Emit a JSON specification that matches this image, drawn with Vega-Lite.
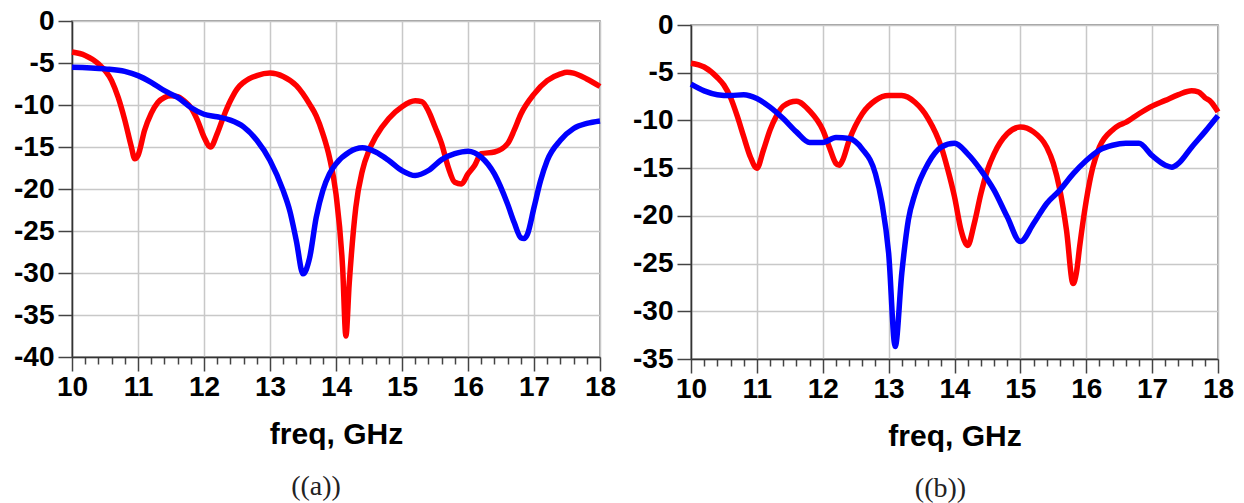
{
  "$schema": "https://vega.github.io/schema/vega-lite/v6.json",
  "padding": {"left": 12, "top": 6, "right": 0, "bottom": 0},
  "background": "white",
  "config": {
    "font": "Liberation Sans",
    "view": {"stroke": "#808080", "strokeWidth": 1.5},
    "axis": {
      "labelFont": "Liberation Sans",
      "labelFontSize": 28,
      "labelFontWeight": "bold",
      "labelColor": "#000000",
      "titleFont": "Liberation Sans",
      "titleFontSize": 30,
      "titleFontWeight": "bold",
      "titleColor": "#000000",
      "domainColor": "#333333",
      "domainWidth": 1.5,
      "tickColor": "#444444",
      "tickWidth": 1.5,
      "gridColor": "#c8c8c8",
      "gridWidth": 1.5
    },
    "title": {"font": "Liberation Serif", "fontSize": 28, "fontWeight": "normal", "color": "#222222"}
  },
  "datasets": {
    "a": [
      {"s":"red","f":10.0,"v":-3.7},{"s":"red","f":10.2,"v":-4.1},{"s":"red","f":10.4,"v":-5.1},{"s":"red","f":10.6,"v":-7.1},{"s":"red","f":10.7,"v":-9.1},{"s":"red","f":10.8,"v":-11.8},{"s":"red","f":10.9,"v":-15.0},{"s":"red","f":10.95,"v":-16.4},{"s":"red","f":11.0,"v":-16.0},{"s":"red","f":11.1,"v":-13.0},{"s":"red","f":11.2,"v":-11.0},{"s":"red","f":11.3,"v":-9.7},{"s":"red","f":11.4,"v":-9.1},{"s":"red","f":11.5,"v":-8.9},{"s":"red","f":11.6,"v":-9.0},{"s":"red","f":11.7,"v":-9.5},{"s":"red","f":11.8,"v":-10.3},{"s":"red","f":11.9,"v":-11.8},{"s":"red","f":12.0,"v":-13.8},{"s":"red","f":12.1,"v":-15.0},{"s":"red","f":12.2,"v":-13.4},{"s":"red","f":12.3,"v":-11.3},{"s":"red","f":12.4,"v":-9.5},{"s":"red","f":12.5,"v":-8.1},{"s":"red","f":12.6,"v":-7.3},{"s":"red","f":12.8,"v":-6.5},{"s":"red","f":13.0,"v":-6.2},{"s":"red","f":13.2,"v":-6.6},{"s":"red","f":13.4,"v":-7.7},{"s":"red","f":13.6,"v":-9.9},{"s":"red","f":13.7,"v":-11.3},{"s":"red","f":13.8,"v":-13.4},{"s":"red","f":13.9,"v":-16.2},{"s":"red","f":14.0,"v":-20.6},{"s":"red","f":14.1,"v":-29.3},{"s":"red","f":14.15,"v":-37.5},{"s":"red","f":14.2,"v":-31.3},{"s":"red","f":14.3,"v":-22.2},{"s":"red","f":14.4,"v":-17.8},{"s":"red","f":14.5,"v":-15.4},{"s":"red","f":14.6,"v":-13.8},{"s":"red","f":14.8,"v":-11.6},{"s":"red","f":15.0,"v":-10.2},{"s":"red","f":15.2,"v":-9.5},{"s":"red","f":15.3,"v":-9.6},{"s":"red","f":15.4,"v":-10.7},{"s":"red","f":15.5,"v":-12.6},{"s":"red","f":15.6,"v":-14.6},{"s":"red","f":15.7,"v":-17.4},{"s":"red","f":15.8,"v":-19.2},{"s":"red","f":15.9,"v":-19.4},{"s":"red","f":16.0,"v":-18.2},{"s":"red","f":16.1,"v":-17.2},{"s":"red","f":16.2,"v":-15.8},{"s":"red","f":16.4,"v":-15.6},{"s":"red","f":16.6,"v":-14.6},{"s":"red","f":16.7,"v":-13.0},{"s":"red","f":16.8,"v":-11.1},{"s":"red","f":17.0,"v":-8.7},{"s":"red","f":17.2,"v":-7.1},{"s":"red","f":17.4,"v":-6.3},{"s":"red","f":17.5,"v":-6.1},{"s":"red","f":17.6,"v":-6.2},{"s":"red","f":17.8,"v":-6.9},{"s":"red","f":18.0,"v":-7.8},
      {"s":"blue","f":10.0,"v":-5.5},{"s":"blue","f":10.5,"v":-5.7},{"s":"blue","f":10.8,"v":-6.0},{"s":"blue","f":11.0,"v":-6.5},{"s":"blue","f":11.2,"v":-7.3},{"s":"blue","f":11.4,"v":-8.3},{"s":"blue","f":11.6,"v":-9.1},{"s":"blue","f":11.8,"v":-10.3},{"s":"blue","f":12.0,"v":-11.1},{"s":"blue","f":12.2,"v":-11.4},{"s":"blue","f":12.4,"v":-11.8},{"s":"blue","f":12.6,"v":-12.6},{"s":"blue","f":12.8,"v":-14.2},{"s":"blue","f":13.0,"v":-16.6},{"s":"blue","f":13.2,"v":-20.2},{"s":"blue","f":13.3,"v":-22.6},{"s":"blue","f":13.4,"v":-26.2},{"s":"blue","f":13.5,"v":-30.1},{"s":"blue","f":13.6,"v":-28.2},{"s":"blue","f":13.7,"v":-23.4},{"s":"blue","f":13.8,"v":-20.2},{"s":"blue","f":13.9,"v":-18.2},{"s":"blue","f":14.0,"v":-17.0},{"s":"blue","f":14.2,"v":-15.6},{"s":"blue","f":14.4,"v":-15.1},{"s":"blue","f":14.6,"v":-15.6},{"s":"blue","f":14.8,"v":-16.6},{"s":"blue","f":15.0,"v":-17.8},{"s":"blue","f":15.2,"v":-18.4},{"s":"blue","f":15.4,"v":-17.8},{"s":"blue","f":15.6,"v":-16.5},{"s":"blue","f":15.8,"v":-15.8},{"s":"blue","f":16.0,"v":-15.5},{"s":"blue","f":16.2,"v":-16.2},{"s":"blue","f":16.4,"v":-18.2},{"s":"blue","f":16.6,"v":-21.8},{"s":"blue","f":16.7,"v":-24.0},{"s":"blue","f":16.8,"v":-25.8},{"s":"blue","f":16.85,"v":-25.9},{"s":"blue","f":16.9,"v":-25.4},{"s":"blue","f":17.0,"v":-22.2},{"s":"blue","f":17.1,"v":-19.0},{"s":"blue","f":17.2,"v":-16.6},{"s":"blue","f":17.4,"v":-14.2},{"s":"blue","f":17.6,"v":-12.8},{"s":"blue","f":17.8,"v":-12.2},{"s":"blue","f":18.0,"v":-11.9}
    ],
    "b": [
      {"s":"red","f":10.0,"v":-4.0},{"s":"red","f":10.2,"v":-4.4},{"s":"red","f":10.4,"v":-5.5},{"s":"red","f":10.5,"v":-6.3},{"s":"red","f":10.6,"v":-7.6},{"s":"red","f":10.7,"v":-9.5},{"s":"red","f":10.8,"v":-11.7},{"s":"red","f":10.9,"v":-13.8},{"s":"red","f":11.0,"v":-15.0},{"s":"red","f":11.1,"v":-13.1},{"s":"red","f":11.2,"v":-11.0},{"s":"red","f":11.3,"v":-9.5},{"s":"red","f":11.4,"v":-8.5},{"s":"red","f":11.6,"v":-8.0},{"s":"red","f":11.8,"v":-9.0},{"s":"red","f":12.0,"v":-11.0},{"s":"red","f":12.1,"v":-12.8},{"s":"red","f":12.2,"v":-14.5},{"s":"red","f":12.25,"v":-14.7},{"s":"red","f":12.3,"v":-14.2},{"s":"red","f":12.4,"v":-12.1},{"s":"red","f":12.6,"v":-9.3},{"s":"red","f":12.8,"v":-7.9},{"s":"red","f":13.0,"v":-7.4},{"s":"red","f":13.2,"v":-7.4},{"s":"red","f":13.4,"v":-8.1},{"s":"red","f":13.6,"v":-9.8},{"s":"red","f":13.8,"v":-12.8},{"s":"red","f":13.9,"v":-15.2},{"s":"red","f":14.0,"v":-18.0},{"s":"red","f":14.1,"v":-21.5},{"s":"red","f":14.2,"v":-23.1},{"s":"red","f":14.3,"v":-20.8},{"s":"red","f":14.4,"v":-17.7},{"s":"red","f":14.5,"v":-15.2},{"s":"red","f":14.6,"v":-13.5},{"s":"red","f":14.8,"v":-11.4},{"s":"red","f":15.0,"v":-10.7},{"s":"red","f":15.2,"v":-11.2},{"s":"red","f":15.4,"v":-12.8},{"s":"red","f":15.5,"v":-14.5},{"s":"red","f":15.6,"v":-17.3},{"s":"red","f":15.7,"v":-21.5},{"s":"red","f":15.8,"v":-27.1},{"s":"red","f":15.85,"v":-26.0},{"s":"red","f":15.9,"v":-23.2},{"s":"red","f":16.0,"v":-18.4},{"s":"red","f":16.1,"v":-14.9},{"s":"red","f":16.2,"v":-12.8},{"s":"red","f":16.4,"v":-11.0},{"s":"red","f":16.5,"v":-10.5},{"s":"red","f":16.6,"v":-10.2},{"s":"red","f":16.8,"v":-9.3},{"s":"red","f":17.0,"v":-8.5},{"s":"red","f":17.2,"v":-7.9},{"s":"red","f":17.4,"v":-7.3},{"s":"red","f":17.6,"v":-6.9},{"s":"red","f":17.7,"v":-7.0},{"s":"red","f":17.8,"v":-7.6},{"s":"red","f":17.9,"v":-8.1},{"s":"red","f":18.0,"v":-9.1},
      {"s":"blue","f":10.0,"v":-6.2},{"s":"blue","f":10.2,"v":-6.9},{"s":"blue","f":10.4,"v":-7.3},{"s":"blue","f":10.6,"v":-7.4},{"s":"blue","f":10.8,"v":-7.3},{"s":"blue","f":11.0,"v":-7.7},{"s":"blue","f":11.2,"v":-8.6},{"s":"blue","f":11.4,"v":-9.8},{"s":"blue","f":11.6,"v":-11.2},{"s":"blue","f":11.8,"v":-12.3},{"s":"blue","f":12.0,"v":-12.3},{"s":"blue","f":12.2,"v":-11.8},{"s":"blue","f":12.4,"v":-11.9},{"s":"blue","f":12.6,"v":-13.0},{"s":"blue","f":12.8,"v":-15.6},{"s":"blue","f":12.9,"v":-18.7},{"s":"blue","f":13.0,"v":-23.9},{"s":"blue","f":13.1,"v":-33.7},{"s":"blue","f":13.2,"v":-26.0},{"s":"blue","f":13.3,"v":-20.4},{"s":"blue","f":13.4,"v":-17.7},{"s":"blue","f":13.6,"v":-14.5},{"s":"blue","f":13.8,"v":-12.8},{"s":"blue","f":14.0,"v":-12.4},{"s":"blue","f":14.2,"v":-13.5},{"s":"blue","f":14.4,"v":-15.2},{"s":"blue","f":14.6,"v":-17.3},{"s":"blue","f":14.8,"v":-20.1},{"s":"blue","f":15.0,"v":-22.7},{"s":"blue","f":15.2,"v":-20.8},{"s":"blue","f":15.4,"v":-18.7},{"s":"blue","f":15.6,"v":-17.3},{"s":"blue","f":15.8,"v":-15.6},{"s":"blue","f":16.0,"v":-14.2},{"s":"blue","f":16.2,"v":-13.1},{"s":"blue","f":16.4,"v":-12.6},{"s":"blue","f":16.6,"v":-12.4},{"s":"blue","f":16.8,"v":-12.4},{"s":"blue","f":17.0,"v":-13.7},{"s":"blue","f":17.2,"v":-14.7},{"s":"blue","f":17.3,"v":-14.9},{"s":"blue","f":17.4,"v":-14.5},{"s":"blue","f":17.6,"v":-12.8},{"s":"blue","f":17.8,"v":-11.2},{"s":"blue","f":18.0,"v":-9.5}
    ]
  },
  "spacing": 14,
  "hconcat": [
    {
      "title": {"text": "((a))", "orient": "bottom", "anchor": "middle", "frame": "group", "dx": -20, "offset": 24},
      "width": 528,
      "height": 336,
      "data": {"name": "a"},
      "mark": {"type": "line", "strokeWidth": 5.5, "interpolate": "monotone"},
      "encoding": {
        "x": {"field": "f", "type": "quantitative",
          "scale": {"domain": [10, 18], "nice": false, "zero": false},
          "axis": {"title": "freq, GHz", "titlePadding": 18, "tickCount": 41,
            "labelExpr": "abs(datum.value - round(datum.value)) < 0.01 ? toString(round(datum.value)) : ''",
            "labelOverlap": false, "labelFlush": false, "labelBound": false, "labelPadding": 2,
            "tickSize": {"condition": {"test": "abs(datum.value - round(datum.value)) < 0.01", "value": 14}, "value": 7},
            "gridOpacity": {"condition": {"test": "abs(datum.value - round(datum.value)) < 0.01", "value": 1}, "value": 0}}},
        "y": {"field": "v", "type": "quantitative",
          "scale": {"domain": [-40, 0], "nice": false},
          "axis": {"title": null, "values": [-40,-35,-30,-25,-20,-15,-10,-5,0], "labelExpr": "toString(datum.value)", "tickSize": 14, "labelPadding": 4, "labelOverlap": false, "labelFlush": false, "labelBound": false}},
        "color": {"field": "s", "type": "nominal", "scale": {"domain": ["blue", "red"], "range": ["#0000ff", "#ff0000"]}, "legend": null}
      }
    },
    {
      "bounds": "flush",
      "spacing": 3,
      "vconcat": [
        {
          "width": 527,
          "height": 1,
          "view": {"stroke": null},
          "data": {"values": []},
          "mark": "point"
        },
        {
          "title": {"text": "((b))", "orient": "bottom", "anchor": "middle", "frame": "group", "dx": -14, "offset": 24},
          "width": 527,
          "height": 334,
          "data": {"name": "b"},
          "mark": {"type": "line", "strokeWidth": 5.5, "interpolate": "monotone"},
          "encoding": {
            "x": {"field": "f", "type": "quantitative",
              "scale": {"domain": [10, 18], "nice": false, "zero": false},
              "axis": {"title": "freq, GHz", "titlePadding": 18, "tickCount": 41,
                "labelExpr": "abs(datum.value - round(datum.value)) < 0.01 ? toString(round(datum.value)) : ''",
                "labelOverlap": false, "labelFlush": false, "labelBound": false, "labelPadding": 2,
                "tickSize": {"condition": {"test": "abs(datum.value - round(datum.value)) < 0.01", "value": 14}, "value": 7},
                "gridOpacity": {"condition": {"test": "abs(datum.value - round(datum.value)) < 0.01", "value": 1}, "value": 0}}},
            "y": {"field": "v", "type": "quantitative",
              "scale": {"domain": [-35, 0], "nice": false},
              "axis": {"title": null, "values": [-35,-30,-25,-20,-15,-10,-5,0], "labelExpr": "toString(datum.value)", "tickSize": 14, "labelPadding": 4, "labelOverlap": false, "labelFlush": false, "labelBound": false}},
            "color": {"field": "s", "type": "nominal", "scale": {"domain": ["blue", "red"], "range": ["#0000ff", "#ff0000"]}, "legend": null}
          }
        }
      ]
    }
  ]
}
